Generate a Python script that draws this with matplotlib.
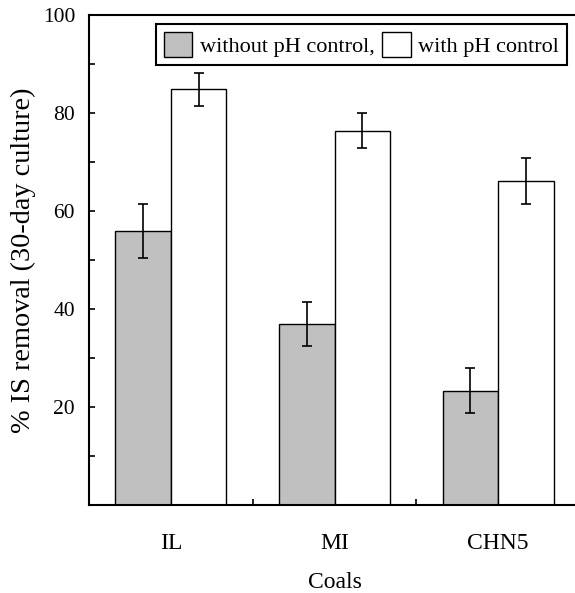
import matplotlib.pyplot as plt
import numpy as np

## Data
coals = ['IL', 'MI', 'CHN5']
without_ph = [56, 37, 23.3]
without_err = [5.5, 4.5, 4.6]
with_ph = [84.8, 76.4, 66.2]
with_err = [3.4, 3.6, 4.7]

plt.rcParams['font.family'] = ['Liberation Serif', 'DejaVu Serif']

fig = plt.figure(figsize=(5.75, 5.93), dpi=100)
ax = fig.add_axes([89 / 575, 1 - 505 / 593, 491 / 575, 490 / 593])

x = np.arange(len(coals))
w = 0.34
ekw = dict(elinewidth=1.2, capthick=1.2)
ax.bar(x - w / 2, without_ph, w, color='#c0c0c0', edgecolor='black', linewidth=1,
       yerr=without_err, capsize=3.3, error_kw=ekw, label='without pH control,')
ax.bar(x + w / 2, with_ph, w, color='white', edgecolor='black', linewidth=1,
       yerr=with_err, capsize=3.3, error_kw=ekw, label='with pH control')

ax.set_xlim(-0.5, 2.5)
ax.set_ylim(0, 100)
ax.set_yticks([20, 40, 60, 80, 100])
ax.set_yticks([10, 30, 50, 70, 90], minor=True)
ax.set_xticks(x)
ax.set_xticklabels(coals)
ax.set_xticks([0.5, 1.5], minor=True)
ax.tick_params(axis='y', which='both', direction='in', length=4.5, width=1.2,
               labelsize=15.5, pad=10)
ax.tick_params(axis='x', which='major', length=0, labelsize=17, pad=20)
ax.tick_params(axis='x', which='minor', direction='in', length=4, width=1.2)
ax.spines['right'].set_visible(False)
for s in ['left', 'bottom', 'top']:
    ax.spines[s].set_linewidth(1.5)

ax.set_ylabel('% IS removal (30-day culture)', fontsize=20.3, labelpad=5)
ax.set_xlabel('Coals', fontsize=17, labelpad=13)

leg = ax.legend(ncol=2, loc='upper right', bbox_to_anchor=(567 / 575, 1 - 24 / 593),
                bbox_transform=fig.transFigure, borderaxespad=0, fontsize=16,
                fancybox=False, edgecolor='black', framealpha=1,
                handlelength=1.3, handleheight=1.4, handletextpad=0.35,
                columnspacing=0.3, borderpad=0.35)
leg.get_frame().set_linewidth(1.5)

plt.savefig('out.png', dpi=100)
